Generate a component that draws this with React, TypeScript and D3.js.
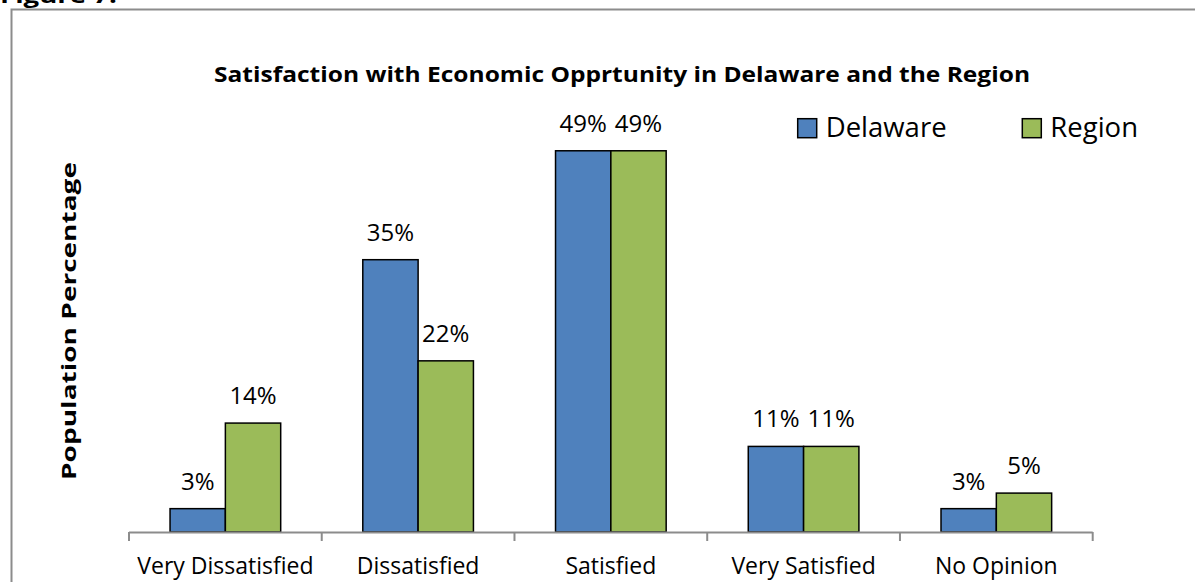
import React from "react";
import * as d3 from "d3";

const categories = ["Very Dissatisfied", "Dissatisfied", "Satisfied", "Very Satisfied", "No Opinion"];
const seriesNames = ["Delaware", "Region"];
const delaware = [3, 35, 49, 11, 3];
const region = [14, 22, 49, 11, 5];
const seriesColors = ["#4F81BD", "#9BBB59"];

const W = 1195;
const H = 582;
const FONT = "'Open Sans', 'DejaVu Sans', sans-serif";

export default function App() {
  const x = d3.scaleBand<string>().domain(categories).range([129, 1092.7]).paddingInner(0).paddingOuter(0);
  const x1 = d3.scaleBand<string>().domain(seriesNames).range([0, x.bandwidth()]).paddingInner(0).paddingOuter(0.742);
  const y = d3.scaleLinear().domain([0, 60]).range([532, 65.2]);
  const series = [delaware, region];
  const boundaries = d3.range(categories.length + 1).map((i) => 129 + i * x.step());

  return (
    <svg width={W} height={H} style={{ position: "absolute", left: 0, top: 0, background: "#fff" }}>
      <rect x={0} y={0} width={W} height={H} fill="#fff" />
      <text x={0} y={3} fontFamily={FONT} fontWeight="bold" fontSize={22} textLength={117} lengthAdjust="spacingAndGlyphs" fill="#000">Figure 7:</text>
      {/* outer border */}
      <path d={`M11.5,${H + 5} V9.5 H${W + 5}`} fill="none" stroke="#8c8c8c" strokeWidth={2} />
      {/* title */}
      <text x={622} y={82} textAnchor="middle" fontFamily={FONT} fontWeight="bold" fontSize={21} textLength={816} lengthAdjust="spacingAndGlyphs" fill="#000">
        Satisfaction with Economic Opprtunity in Delaware and the Region
      </text>
      {/* y axis label */}
      <text transform="translate(76,321) rotate(-90)" textAnchor="middle" fontFamily={FONT} fontWeight="bold" fontSize={19} textLength={318} lengthAdjust="spacingAndGlyphs" fill="#000">
        Population Percentage
      </text>
      {/* bars */}
      {categories.map((c, ci) => (
        <g key={c}>
          {series.map((vals, si) => {
            const bx = (x(c) as number) + (x1(seriesNames[si]) as number);
            const by = y(vals[ci]);
            return (
              <g key={si}>
                <rect x={bx} y={by} width={x1.bandwidth()} height={y(0) - by} fill={seriesColors[si]} stroke="#000" strokeWidth={1.5} />
                <text x={bx + x1.bandwidth() / 2} y={by - 19} textAnchor="middle" fontFamily={FONT} fontSize={24} fill="#000">
                  {vals[ci]}%
                </text>
              </g>
            );
          })}
        </g>
      ))}
      {/* x axis */}
      <line x1={129} x2={1092.7} y1={532.5} y2={532.5} stroke="#8c8c8c" strokeWidth={2} />
      {boundaries.map((bx, i) => (
        <line key={i} x1={bx} x2={bx} y1={532} y2={541} stroke="#8c8c8c" strokeWidth={2} />
      ))}
      {categories.map((c) => (
        <text key={c} x={(x(c) as number) + x.bandwidth() / 2} y={574} textAnchor="middle" fontFamily={FONT} fontSize={23} fill="#000">
          {c}
        </text>
      ))}
      {/* legend */}
      {seriesNames.map((s, i) => {
        const lx = [797.7, 1022.3][i];
        return (
          <g key={s}>
            <rect x={lx} y={118.7} width={19} height={19} fill={seriesColors[i]} stroke="#000" strokeWidth={1.5} />
            <text x={lx + 28} y={136.7} fontFamily={FONT} fontSize={27.5} fill="#000">{s}</text>
          </g>
        );
      })}
    </svg>
  );
}
